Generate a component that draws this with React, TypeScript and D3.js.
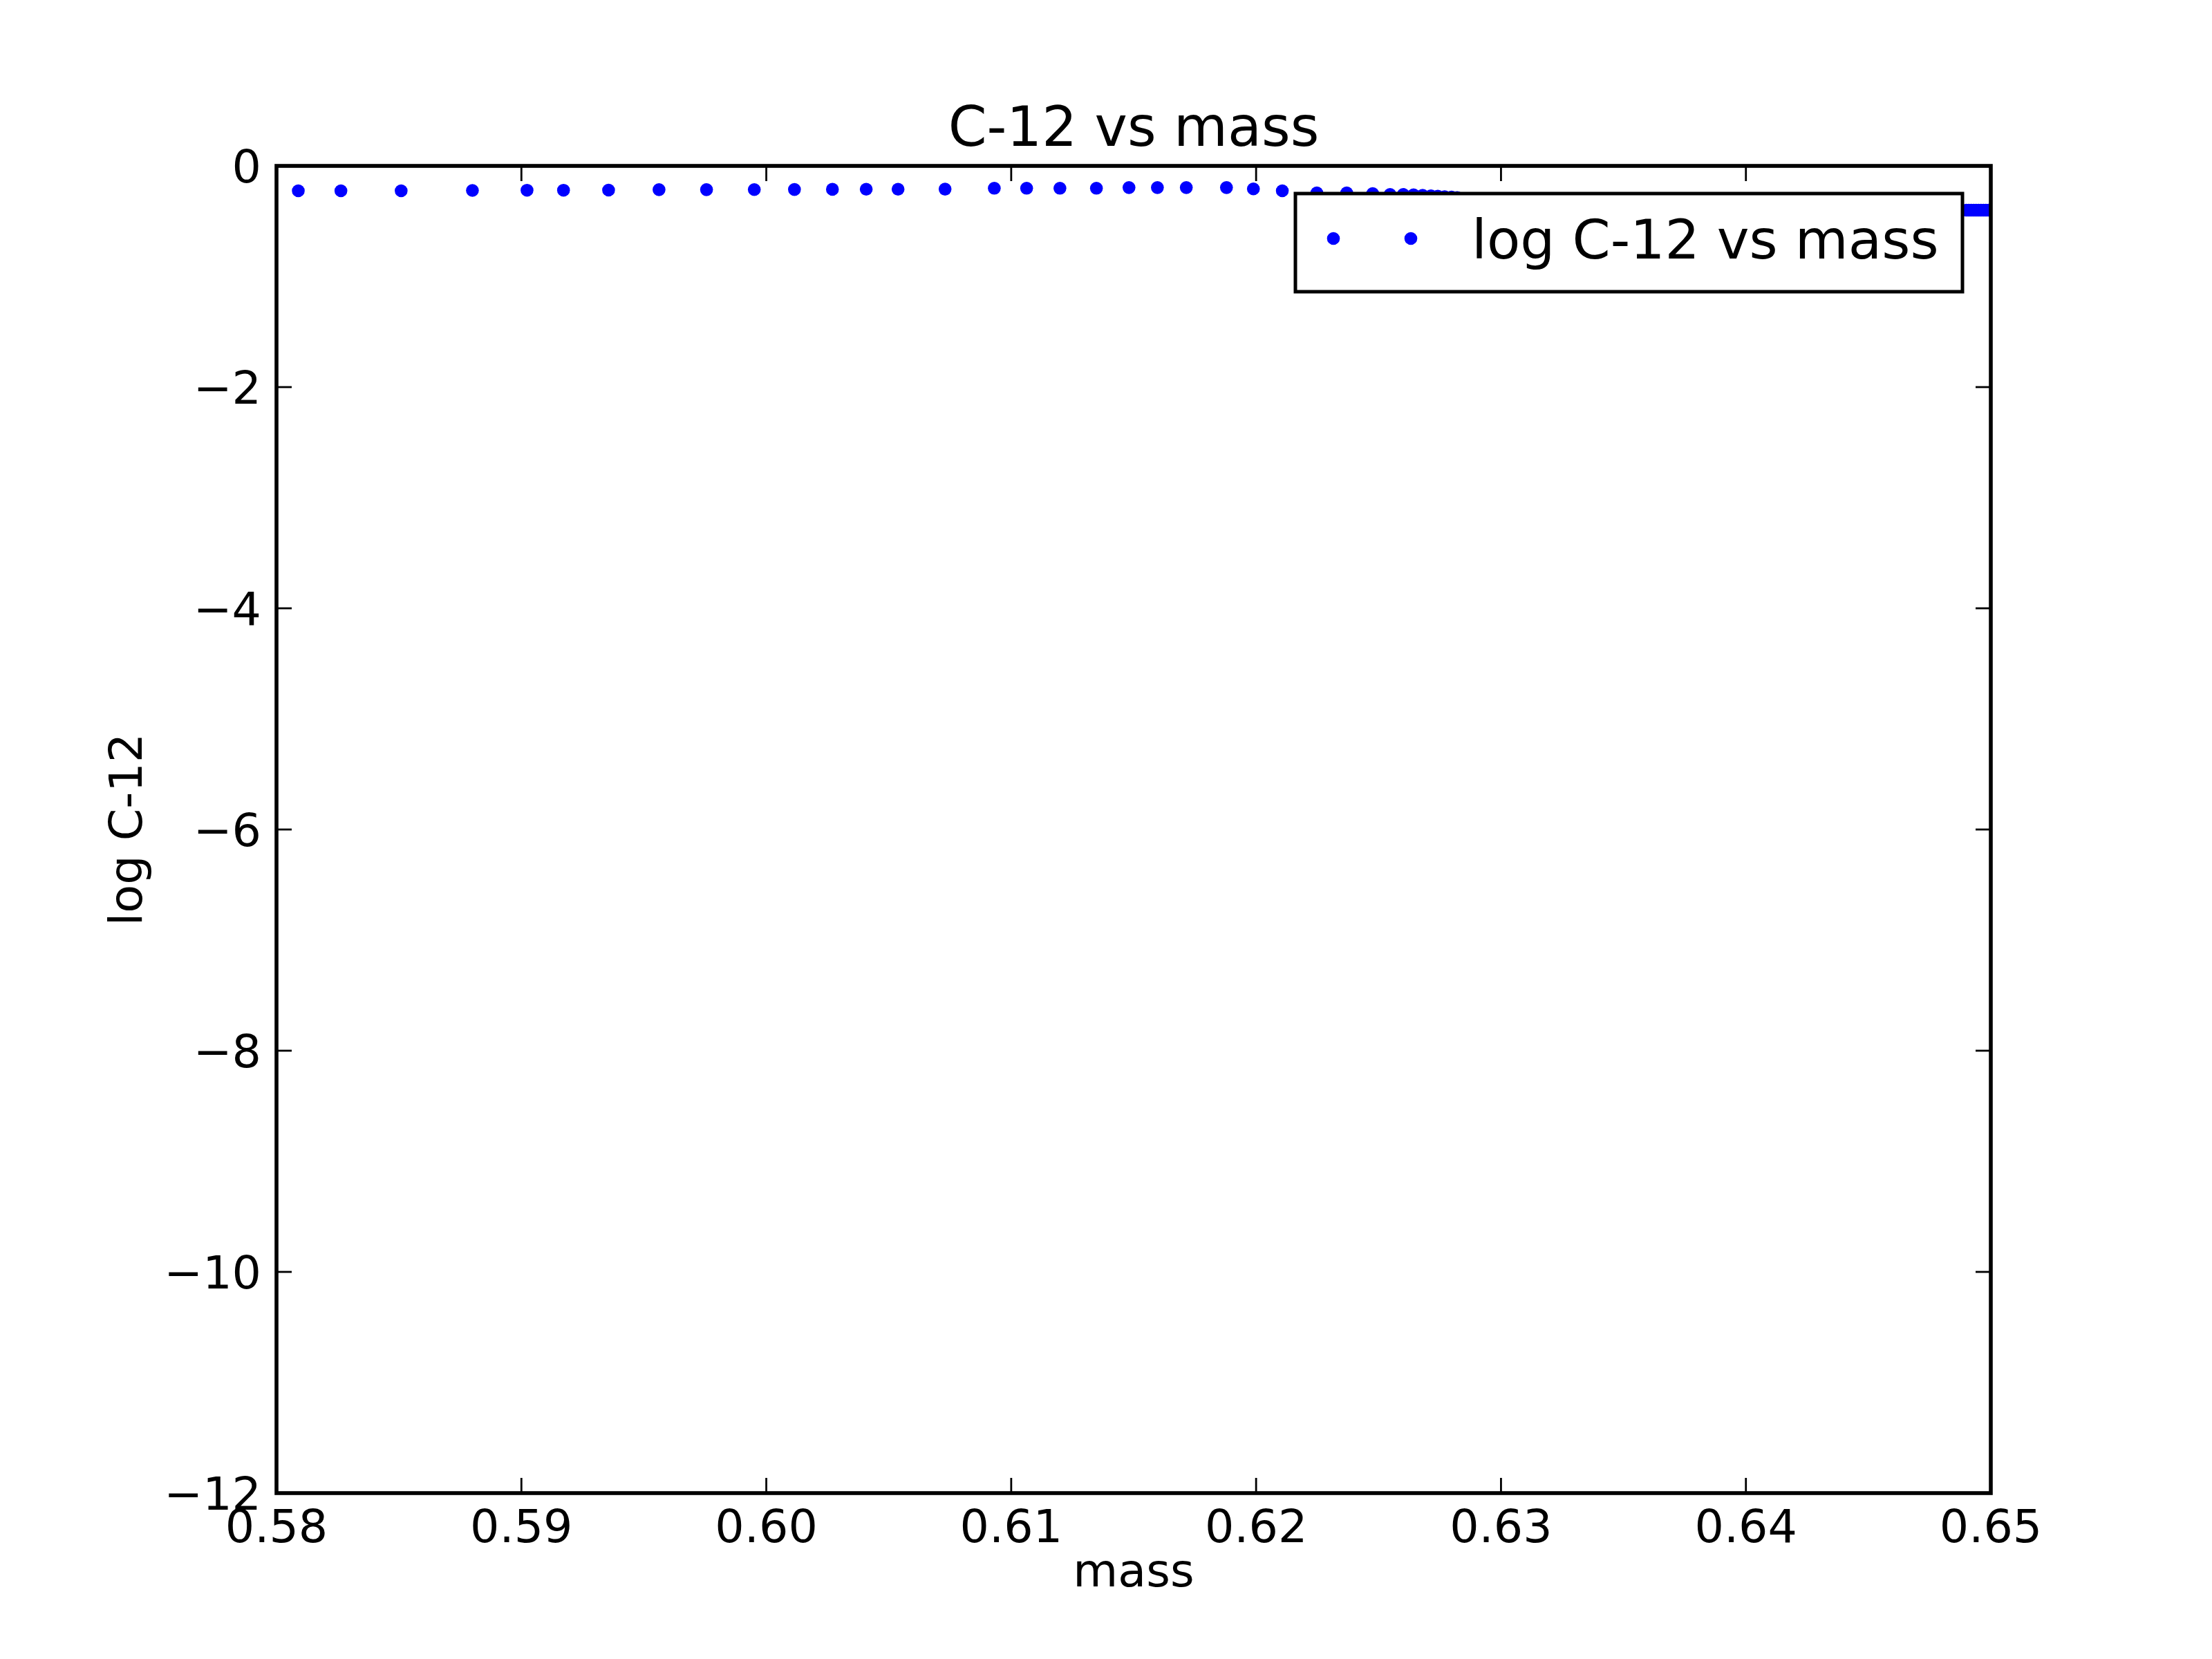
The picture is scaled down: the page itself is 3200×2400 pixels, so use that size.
import React from "react";
import * as d3 from "d3";

const massValues = [
  0.58089, 0.58263, 0.58509, 0.588, 0.59023, 0.59172, 0.59356, 0.59562, 0.59756,
  0.59951, 0.60115, 0.6027, 0.60408, 0.60538, 0.6073, 0.60931, 0.61063, 0.61199,
  0.61348, 0.61481, 0.61597, 0.61715, 0.61879, 0.61989, 0.62107, 0.62248, 0.6237,
  0.62476, 0.62547, 0.62601, 0.62643, 0.6268, 0.62714, 0.62742, 0.6277, 0.62798,
  0.62821, 0.6288, 0.63, 0.632, 0.635, 0.64, 0.645, 0.6485, 0.649, 0.6491, 0.6492,
  0.6493, 0.6494, 0.6495, 0.6496, 0.6497, 0.6498, 0.6499, 0.65, 0.6502, 0.6505,
];
const logC12Values = [
  -0.225, -0.225, -0.225, -0.222, -0.22, -0.22, -0.219, -0.215, -0.215,
  -0.214, -0.213, -0.212, -0.211, -0.211, -0.21, -0.202, -0.202, -0.202,
  -0.202, -0.196, -0.196, -0.196, -0.196, -0.208, -0.225, -0.244, -0.244,
  -0.25, -0.258, -0.258, -0.262, -0.266, -0.27, -0.274, -0.278, -0.282,
  -0.286, -0.31, -0.33, -0.35, -0.37, -0.39, -0.4, -0.4, -0.4, -0.4, -0.4,
  -0.4, -0.4, -0.4, -0.4, -0.4, -0.4, -0.4, -0.4, -0.4, -0.4,
];
const xTickValues = [0.58, 0.59, 0.6, 0.61, 0.62, 0.63, 0.64, 0.65];
const yTickValues = [0, -2, -4, -6, -8, -10, -12];

const titleText = "C-12 vs mass";
const xLabelText = "mass";
const yLabelText = "log C-12";
const legendText = "log C-12 vs mass";

export default function App() {
  const W = 3200;
  const H = 2400;
  const left = 400, right = 2880, top = 240, bottom = 2160;
  const x = d3.scaleLinear().domain([0.58, 0.65]).range([left, right]);
  const y = d3.scaleLinear().domain([-12, 0]).range([bottom, top]);
  const font = "'DejaVu Sans', sans-serif";
  const blue = "#0000ff";
  const r = 9.3;
  const tickLen = 22;
  const fmtX = (v: number) => v.toFixed(2);
  const fmtY = (v: number) => (v < 0 ? "\u2212" + Math.abs(v) : String(v));

  const points = massValues.map((m, i) => ({ m, v: logC12Values[i] }));

  const lg = { x0: 1874, y0: 280, x1: 2839, y1: 422 };

  return (
    <svg
      width={W}
      height={H}
      style={{ position: "absolute", left: 0, top: 0, background: "#fff" }}
      fontFamily={font}
    >
      <rect x={0} y={0} width={W} height={H} fill="#fff" />
      <defs>
        <clipPath id="plotclip">
          <rect x={left} y={top} width={right - left} height={bottom - top} />
        </clipPath>
      </defs>
      <g clipPath="url(#plotclip)">
        {points.map((p, i) => (
          <circle key={i} cx={x(p.m)} cy={y(p.v)} r={r} fill={blue} />
        ))}
      </g>
      {xTickValues.map((t, i) => (
        <g key={"xt" + i}>
          <line x1={x(t)} x2={x(t)} y1={bottom} y2={bottom - tickLen} stroke="#000" strokeWidth={2.8} />
          <line x1={x(t)} x2={x(t)} y1={top} y2={top + tickLen} stroke="#000" strokeWidth={2.8} />
          <text x={x(t)} y={2231} fontSize={66.7} textAnchor="middle" fill="#000">
            {fmtX(t)}
          </text>
        </g>
      ))}
      {yTickValues.map((t, i) => (
        <g key={"yt" + i}>
          <line x1={left} x2={left + tickLen} y1={y(t)} y2={y(t)} stroke="#000" strokeWidth={2.8} />
          <line x1={right} x2={right - tickLen} y1={y(t)} y2={y(t)} stroke="#000" strokeWidth={2.8} />
          <text x={378} y={y(t) + 24.3} fontSize={66.7} textAnchor="end" fill="#000">
            {fmtY(t)}
          </text>
        </g>
      ))}
      <rect x={left} y={top} width={right - left} height={bottom - top} fill="none" stroke="#000" strokeWidth={5.6} />
      <rect x={lg.x0} y={lg.y0} width={lg.x1 - lg.x0} height={lg.y1 - lg.y0} fill="#fff" stroke="#000" strokeWidth={5} />
      <circle cx={1929} cy={345} r={r} fill={blue} />
      <circle cx={2041} cy={345} r={r} fill={blue} />
      <text x={2129} y={374} fontSize={79} fill="#000">
        {legendText}
      </text>
      <text x={(left + right) / 2} y={211} fontSize={80} textAnchor="middle" fill="#000">
        {titleText}
      </text>
      <text x={(left + right) / 2} y={2295} fontSize={66.7} textAnchor="middle" fill="#000">
        {xLabelText}
      </text>
      <text
        transform={`translate(205, ${(top + bottom) / 2}) rotate(-90)`}
        fontSize={66.7}
        textAnchor="middle"
        fill="#000"
      >
        {yLabelText}
      </text>
    </svg>
  );
}
